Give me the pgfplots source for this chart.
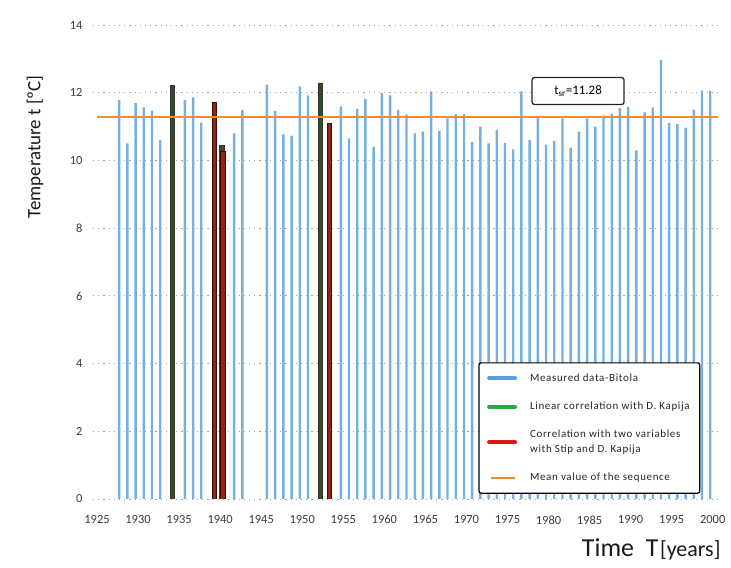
\documentclass[border=0pt]{standalone}
\usepackage{fontspec}
\setmainfont{Carlito}
\usepackage{pgfplots}
\usepackage{pgfplotstable}
\pgfplotsset{compat=1.18}

\definecolor{barblue}{RGB}{118,176,226}
\definecolor{legblue}{RGB}{90,160,225}
\definecolor{bargreen}{RGB}{50,78,25}
\definecolor{leggreen}{RGB}{40,170,60}
\definecolor{barred}{RGB}{150,32,20}
\definecolor{legred}{RGB}{228,20,20}
\definecolor{meanorange}{RGB}{240,140,45}
\definecolor{legmean}{RGB}{225,145,35}
\definecolor{ticktext}{RGB}{60,60,60}

\pgfplotstableread{
year t
1928 11.79
1929 10.50
1930 11.69
1931 11.57
1932 11.47
1933 10.60
1936 11.79
1937 11.86
1938 11.12
1942 10.80
1943 11.49
1946 12.24
1947 11.46
1948 10.77
1949 10.73
1950 12.19
1951 11.92
1955 11.60
1956 10.65
1957 11.52
1958 11.82
1959 10.40
1960 11.99
1961 11.92
1962 11.49
1963 11.36
1964 10.80
1965 10.85
1966 12.04
1967 10.87
1968 11.24
1969 11.37
1970 11.37
1971 10.55
1972 11.00
1973 10.50
1974 10.90
1975 10.52
1976 10.33
1977 12.04
1978 10.60
1979 11.28
1980 10.47
1981 10.58
1982 11.24
1983 10.38
1984 10.85
1985 11.24
1986 11.00
1987 11.33
1988 11.38
1989 11.55
1990 11.58
1991 10.30
1992 11.42
1993 11.57
1994 12.97
1995 11.10
1996 11.07
1997 10.97
1998 11.50
1999 12.06
2000 12.06
}\bitola

\pgfplotstableread{
year t
1934 12.21
1940 10.45
1952 12.29
}\lincorr

\pgfplotstableread{
year t
1939 11.72
1940 10.28
1953 11.09
}\twocorr

\begin{document}
\begin{tikzpicture}
\useasboundingbox (0,0) rectangle (731bp,568bp);
\begin{axis}[
  at={(92.9bp,69bp)}, anchor=south west,
  scale only axis, width=628bp, height=474bp,
  xmin=1924.5, xmax=2001, ymin=0, ymax=14,
  axis line style={draw=none},
  xtick={1925,1930,...,2000}, ytick={0,2,...,14},
  major tick length=0pt,
  ymajorgrids,
  grid style={gray!70, dash pattern=on 1.2bp off 4bp, line width=0.9bp},
  /pgf/number format/assume math mode=true,
  /pgf/number format/1000 sep={},
  tick label style={font=\fontsize{12.5}{14}\selectfont, text=ticktext},
  xticklabel style={yshift=-13bp},
  yticklabel style={xshift=-7bp},
  ylabel={Temperature t [ºC]},
  ylabel style={at={(axis description cs:-0.092,0.743)}, anchor=center, font=\fontsize{19}{22}\selectfont, text=black!90},
  xlabel={{\fontsize{26}{28}\selectfont Time\ \ T}\,{\fontsize{22}{24}\selectfont[years]}},
  xlabel style={at={(axis description cs:0.889,-0.107)}, anchor=center, text=black!90},
  legend style={at={(axis description cs:0.614,0.011)}, anchor=south west,
    draw=black, line width=1.2bp, rounded corners=2bp, fill=white,
    font=\fontsize{11}{15}\selectfont\addfontfeature{LetterSpace=6}, text=black!85,
    row sep=15bp, inner xsep=8bp, inner ysep=9bp,
    cells={anchor=west, align=left}},
  legend cell align=left,
]
\addplot[ybar, bar width=2.4bp, bar shift=0pt, fill=barblue, draw=none,
  legend image code/.code={\draw[legblue, line width=4bp, line cap=round] (0bp,0bp) -- (26bp,0bp); \path (36bp,0bp);}]
  table[x expr=\thisrow{year}-0.3, y=t]{\bitola};
\addlegendentry{Measured data-Bitola}
\addplot[ybar, bar width=4.3bp, bar shift=0pt, fill=bargreen, draw=black!80, line width=0.5bp,
  legend image code/.code={\draw[leggreen, line width=4bp, line cap=round] (0bp,0bp) -- (26bp,0bp); \path (36bp,0bp);}]
  table[x expr=\thisrow{year}+0.2, y=t]{\lincorr};
\addlegendentry{Linear correlation with D. Kapija}
\addplot[ybar, bar width=4.3bp, bar shift=0pt, fill=barred, draw=black!60!barred, line width=0.5bp,
  legend image code/.code={\draw[legred, line width=4bp, line cap=round] (0bp,0bp) -- (26bp,0bp); \path (36bp,0bp);}]
  table[x expr=\thisrow{year}+0.3, y=t]{\twocorr};
\addlegendentry{Correlation with two variables\\with Stip and D. Kapija}
\addplot[meanorange, line width=2bp,
  legend image code/.code={\draw[draw=legmean, line width=2bp] (2bp,0bp) -- (26bp,0bp); \path (38bp,0bp);}]
  coordinates {(1925,11.28) (2000.6,11.28)};
\addlegendentry{Mean value of the sequence}
\node[draw=black!85, rounded corners=2.5bp, line width=1.3bp, fill=white,
  minimum width=92bp, minimum height=27bp, font=\fontsize{13}{15}\selectfont]
  at (axis cs:1983.6,12.05) {t\textsubscript{sr}=11.28};
\end{axis}
\end{tikzpicture}
\end{document}
